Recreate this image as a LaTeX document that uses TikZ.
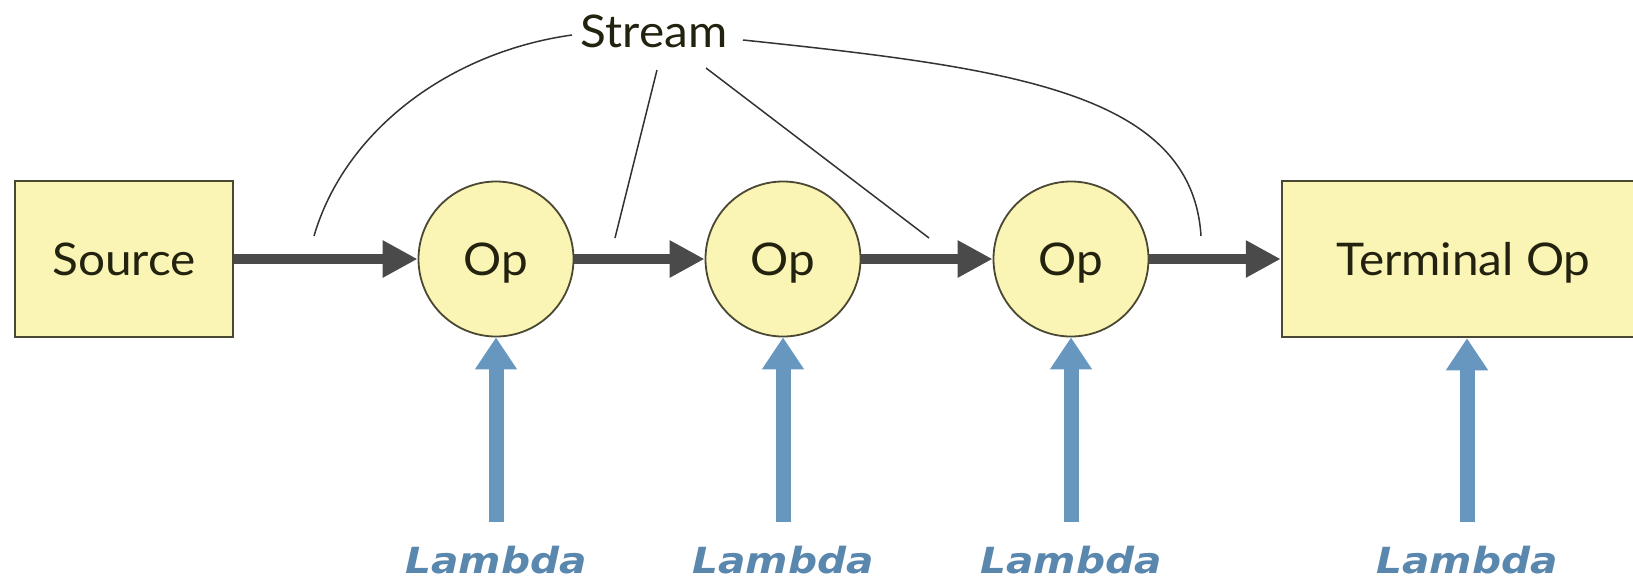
\documentclass[tikz,border=0pt]{standalone}
\usepackage{fontspec}
\setmainfont{Lato}[FakeStretch=1.06]
\newfontfamily\lamfont{DejaVu Sans}[FakeStretch=1.13]
\usetikzlibrary{arrows.meta}
\definecolor{yfill}{HTML}{FAF5B5}
\definecolor{yborder}{HTML}{4A4733}
\definecolor{txt}{HTML}{22220F}
\definecolor{darkarrow}{HTML}{4A4A4A}
\definecolor{lblue}{HTML}{6797BF}
\definecolor{ltext}{HTML}{5A87AE}
\definecolor{thin}{HTML}{333333}
\tikzset{
  blockbox/.style={draw=yborder, line width=2.5pt, fill=yfill, minimum height=156pt, inner sep=0pt,
    text=txt, font=\fontsize{45}{50}\selectfont, text height=32pt, text depth=0pt},
  opnode/.style={circle, draw=yborder, line width=1.8pt, fill=yfill, minimum size=155pt, inner sep=0pt,
    text=txt, font=\fontsize{45}{50}\selectfont, text height=32pt, text depth=0pt},
  flow/.style={draw=darkarrow, line width=10.5pt, -{Triangle[length=35pt,width=35pt]}},
  lamarrow/.style={draw=lblue, line width=15pt, -{Triangle[length=32pt,width=40pt]}},
  lamlabel/.style={anchor=base, text=ltext, font=\lamfont\fontsize{36}{40}\selectfont\bfseries\itshape, inner sep=0pt},
  streamlbl/.style={text=txt, font=\fontsize{45}{50}\selectfont, text height=32pt, text depth=0pt, inner sep=0pt},
  pointer/.style={draw=thin, line width=1.5pt}
}
\begin{document}
\begin{tikzpicture}[x=1pt,y=-1pt]
\useasboundingbox (0,0) rectangle (1633,579);
% blocks
\node[blockbox, minimum width=218pt] (src) at (124,259) {Source};
\node[opnode] (op1) at (496,259) {Op};
\node[opnode] (op2) at (783,259) {Op};
\node[opnode] (op3) at (1071,259) {Op};
\node[blockbox, minimum width=363pt] (term) at (1463.5,259) {Terminal Op};
% flow arrows
\draw[flow] (src.east) -- (op1.west);
\draw[flow] (op1.east) -- (op2.west);
\draw[flow] (op2.east) -- (op3.west);
\draw[flow] (op3.east) -- (term.west);
% lambda arrows and labels
\coordinate (l1) at (496,522);
\coordinate (l2) at (783,522);
\coordinate (l3) at (1071,522);
\coordinate (l4) at (1467,522);
\draw[lamarrow] (l1) -- (op1.south);
\draw[lamarrow] (l2) -- (op2.south);
\draw[lamarrow] (l3) -- (op3.south);
\draw[lamarrow] (l4) -- (l4 |- term.south);
\node[lamlabel] (lam1) at (496,573) {Lambda};
\node[lamlabel] (lam2) at (783,573) {Lambda};
\node[lamlabel] (lam3) at (1071,573) {Lambda};
\node[lamlabel] (lam4) at (1467,573) {Lambda};
% stream label and pointers
\node[streamlbl] (stream) at (654,31) {Stream};
\coordinate (s1) at (572,35);
\coordinate (s2) at (657,70);
\coordinate (s3) at (706,68);
\coordinate (s4) at (743,40);
\coordinate (e1) at (314,236);
\coordinate (e2) at (615,238);
\coordinate (e3) at (929,238);
\coordinate (e4) at (1201,236);
\draw[pointer] (s1) .. controls (450,52) and (345,130) .. (e1);
\draw[pointer] (s2) -- (e2);
\draw[pointer] (s3) -- (e3);
\draw[pointer] (s4) .. controls (1010,68) and (1192,92) .. (e4);
\end{tikzpicture}
\end{document}
